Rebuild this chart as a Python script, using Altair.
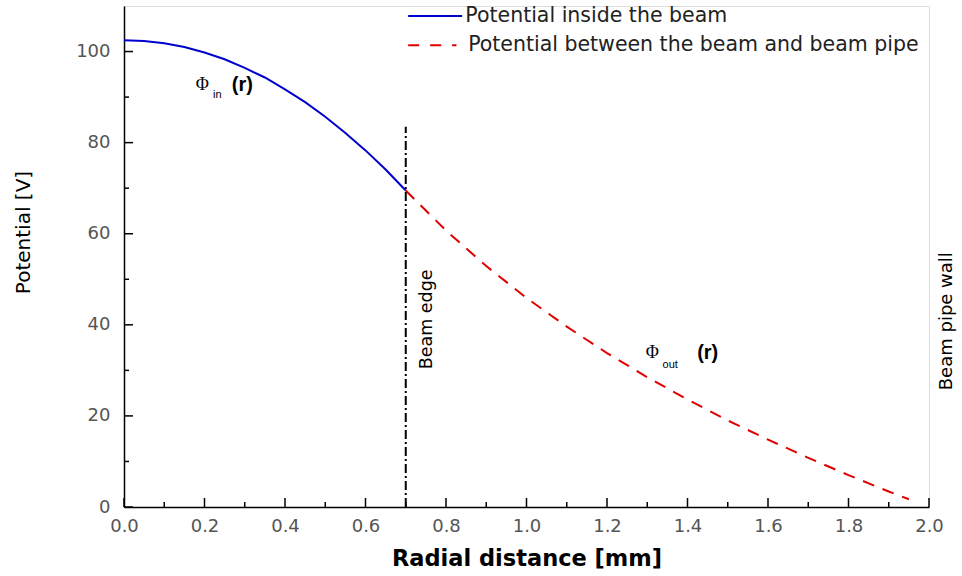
import altair as alt
import pandas as pd

# ---- data ----
r_in = [0.0, 0.05, 0.1, 0.15, 0.2, 0.25, 0.3, 0.35, 0.4, 0.45, 0.5, 0.55, 0.6, 0.65, 0.7]
phi_in = [102.5, 102.3, 101.8, 101.0, 99.8, 98.3, 96.4, 94.3, 91.7, 88.9, 85.7, 82.1, 78.3, 74.1, 69.5]

r_out = [0.7, 0.8, 0.9, 1.0, 1.1, 1.2, 1.3, 1.4, 1.5, 1.6, 1.7, 1.8, 1.9, 1.95]
phi_out = [69.5, 60.7, 52.9, 45.9, 39.6, 33.8, 28.5, 23.6, 19.0, 14.8, 10.8, 7.0, 3.4, 1.7]

x_major = [0.0, 0.2, 0.4, 0.6, 0.8, 1.0, 1.2, 1.4, 1.6, 1.8, 2.0]
x_minor = [0.1, 0.3, 0.5, 0.7, 0.9, 1.1, 1.3, 1.5, 1.7, 1.9]
y_major = [0, 20, 40, 60, 80, 100]
y_minor = [10, 30, 50, 70, 90]

beam_edge_r = 0.7
beam_edge_top = 83.5

legend_labels = ["Potential inside the beam", "Potential between the beam and beam pipe"]

W, H = 805, 501
X_MAX, Y_MAX = 2.0, 110
FONT = "Liberation Sans"
WIDE = "DejaVu Sans"
MAJ, MIN = 9, 5   # tick lengths in pixels

xs = alt.Scale(domain=[0, X_MAX], nice=False, zero=False)
ys = alt.Scale(domain=[0, Y_MAX], nice=False)

df_in = pd.DataFrame({"r": r_in, "phi": phi_in})
df_out = pd.DataFrame({"r": r_out, "phi": phi_out})

base_axes = alt.Chart(df_in).mark_line(color="#0000cc", strokeWidth=2).encode(
    x=alt.X("r:Q", scale=xs,
            axis=alt.Axis(title="Radial distance [mm]", values=x_major, format=".1f",
                          ticks=False, grid=False, domainColor="black", domainWidth=1.5,
                          labelFont=WIDE, labelFontSize=18, labelColor="#555", labelPadding=10,
                          titleFont=WIDE, titleFontSize=22.5, titleFontWeight="bold",
                          titleColor="black", titlePadding=12, labelFlush=False)),
    y=alt.Y("phi:Q", scale=ys,
            axis=alt.Axis(title="Potential [V]", values=y_major, format="d",
                          ticks=False, grid=False, domainColor="black", domainWidth=1.5,
                          labelFont=WIDE, labelFontSize=18, labelColor="#555", labelPadding=14,
                          titleFont=WIDE, titleFontSize=20, titleFontWeight="normal",
                          titleColor="black", titleX=-101, titleY=226, titleAngle=270,
                          titleAlign="center", titleBaseline="middle", labelFlush=False)),
)

out_line = alt.Chart(df_out).mark_line(color="#e00000", strokeWidth=2, strokeDash=[12, 9]).encode(
    x=alt.X("r:Q", scale=xs), y=alt.Y("phi:Q", scale=ys))

# inward ticks drawn as short rules starting on the axis line
xt = pd.DataFrame({
    "xv": x_major + x_minor,
    "y0": [0.0] * (len(x_major) + len(x_minor)),
    "y1": [MAJ * Y_MAX / H] * len(x_major) + [MIN * Y_MAX / H] * len(x_minor),
})
yt = pd.DataFrame({
    "yv": [float(v) for v in y_major + y_minor],
    "x0": [0.0] * (len(y_major) + len(y_minor)),
    "x1": [MAJ * X_MAX / W] * len(y_major) + [MIN * X_MAX / W] * len(y_minor),
})
xticks = alt.Chart(xt).mark_rule(color="black", strokeWidth=1.5).encode(
    x=alt.X("xv:Q", scale=xs), y=alt.Y("y0:Q", scale=ys), y2="y1:Q")
yticks = alt.Chart(yt).mark_rule(color="black", strokeWidth=1.5).encode(
    y=alt.Y("yv:Q", scale=ys), x=alt.X("x0:Q", scale=xs), x2="x1:Q")

edge = alt.Chart(pd.DataFrame({"r": [beam_edge_r], "z": [0], "top": [beam_edge_top]})).mark_rule(
    color="black", strokeWidth=2, strokeDash=[9, 3, 2, 3]).encode(
    x=alt.X("r:Q", scale=xs), y=alt.Y("z:Q", scale=ys), y2=alt.Y2("top:Q"))

def txt(text, x, y, size, weight="normal", angle=0, align="left", baseline="middle",
        color="black", font=FONT):
    d = pd.DataFrame({"t": [text], "x": [x], "y": [y]})
    return alt.Chart(d).mark_text(
        font=font, fontSize=size, fontWeight=weight, angle=angle, align=align,
        baseline=baseline, color=color).encode(
        x=alt.X("x:Q", scale=xs), y=alt.Y("y:Q", scale=ys), text="t:N")

# legend samples
leg1 = alt.Chart(pd.DataFrame({"a": [0.706], "b": [0.840], "y": [107.8]})).mark_rule(
    color="#0000cc", strokeWidth=2).encode(
    x=alt.X("a:Q", scale=xs), x2="b:Q", y=alt.Y("y:Q", scale=ys))
leg2 = alt.Chart(pd.DataFrame({"a": [0.706], "b": [0.826], "y": [101.4]})).mark_rule(
    color="#e00000", strokeWidth=2, strokeDash=[11, 11]).encode(
    x=alt.X("a:Q", scale=xs), x2="b:Q", y=alt.Y("y:Q", scale=ys))

layers = [
    base_axes, out_line, xticks, yticks, edge, leg1, leg2,
    txt(legend_labels[0], 0.848, 107.8, 20.5, color="#222", font=WIDE),
    txt(legend_labels[1], 0.855, 101.4, 20.5, color="#222", font=WIDE),
    txt("Φ", 0.178, 92.7, 18, font="Liberation Serif"),
    txt("in", 0.221, 90.4, 11),
    txt("(r)", 0.268, 92.7, 20, weight="bold"),
    txt("Φ", 1.296, 33.8, 18, font="Liberation Serif"),
    txt("out", 1.338, 31.2, 11),
    txt("(r)", 1.424, 33.8, 20, weight="bold"),
    txt("Beam edge", 0.753, 41.2, 17.5, angle=270, align="center", font=WIDE),
    txt("Beam pipe wall", 2.045, 40.8, 18, angle=270, align="center", font=WIDE),
]

chart = alt.layer(*layers).properties(
    width=W, height=H,
    padding={"left": 124, "top": 6, "right": 33, "bottom": 69},
    autosize=alt.AutoSizeParams(type="none"),
).configure_view(stroke="black", strokeWidth=1.5).configure(background="white")

chart.save("out.html", embed_options={"renderer": "svg", "actions": False})
